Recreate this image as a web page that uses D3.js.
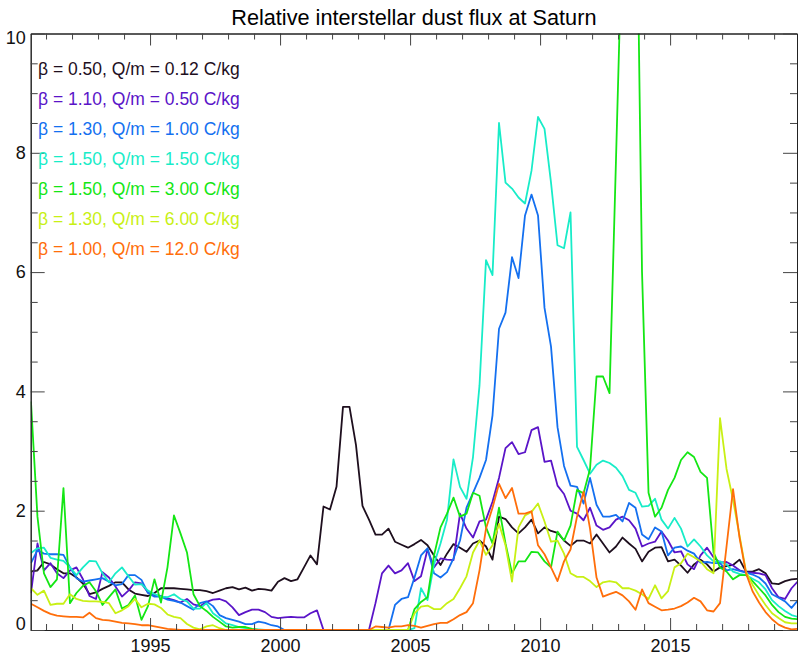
<!DOCTYPE html>
<html>
<head>
<meta charset="utf-8">
<script src="https://cdn.jsdelivr.net/npm/d3@7"></script>
<style>
  body { margin: 0; background: #fff; }
  svg { display: block; font-family: "Liberation Sans", Arial, sans-serif; }
</style>
</head>
<body>
<svg id="chart" width="798" height="657"></svg>
<script>
// time grid: one value every quarter year, first sample at 1990.42
const startYear = 1990.42;
const step = 0.25;

// one row per year: yyyy.42, yyyy.67, yyyy.92, (yyyy+1).17
const fluxB050 = [
  0.98,1.00,1.14,1.10, 1.02,0.95,0.95,0.88, 0.78,0.60,0.63,0.69, 0.74,0.80,0.80,0.68,
  0.61,0.59,0.57,0.62, 0.70,0.70,0.70,0.69, 0.68,0.67,0.67,0.65, 0.62,0.66,0.70,0.72,
  0.68,0.71,0.66,0.69, 0.68,0.66,0.81,0.87, 0.82,0.85,1.05,1.25, 1.10,2.07,2.02,2.40,
  3.74,3.74,3.10,2.08, 1.85,1.60,1.60,1.70, 1.48,1.43,1.38,1.44, 1.51,1.42,1.25,1.09,
  1.28,1.44,1.38,1.31, 1.45,1.50,1.40,1.18, 1.90,1.86,1.72,1.62, 1.72,1.85,1.62,1.72,
  1.66,1.63,1.50,1.41, 1.50,1.50,1.45,1.60, 1.45,1.30,1.40,1.55, 1.45,1.36,1.15,1.31,
  1.38,1.39,1.15,1.18, 1.08,0.96,1.10,1.18, 1.10,0.98,1.05,1.07, 1.09,1.18,0.98,0.98,
  1.02,0.95,0.78,0.77, 0.82,0.85,0.86
];
const fluxB110 = [
  0.62,1.45,1.00,1.12, 0.95,0.87,1.00,1.05, 0.85,0.57,0.52,0.97, 0.88,0.73,0.56,0.66,
  0.80,0.78,0.63,0.58, 0.57,0.53,0.50,0.46, 0.52,0.43,0.40,0.47, 0.51,0.52,0.48,0.38,
  0.25,0.30,0.34,0.34, 0.30,0.22,0.20,0.21, 0.22,0.21,0.21,0.28, 0.33,0.00,0.00,0.00,
  0.00,0.00,0.00,0.00, 0.00,0.45,0.95,1.08, 0.95,1.00,1.12,0.82, 0.90,1.35,1.05,1.20,
  1.18,1.17,1.95,1.70, 1.55,1.82,1.85,2.15, 2.55,3.05,3.15,2.95, 2.98,3.35,3.40,2.82,
  2.84,2.42,2.28,2.00, 1.95,1.84,2.05,1.75, 1.68,1.72,1.85,1.90, 1.84,1.70,1.40,1.45,
  1.48,1.65,1.50,1.30, 1.32,1.10,1.02,1.25, 1.38,1.22,1.13,1.14, 1.08,1.00,0.97,0.96,
  0.95,0.92,0.70,0.55, 0.52,0.70,0.82
];
const fluxB130 = [
  1.12,1.34,1.28,1.27, 1.27,1.26,1.05,0.87, 0.81,0.83,0.85,0.87, 0.81,0.75,0.77,0.92,
  0.92,0.84,0.62,0.56, 0.56,0.51,0.49,0.46, 0.40,0.34,0.45,0.48, 0.40,0.25,0.20,0.17,
  0.14,0.10,0.10,0.14, 0.12,0.08,0.06,0.00, 0.00,0.00,0.00,0.00, 0.00,0.00,0.00,0.00,
  0.00,0.00,0.00,0.00, 0.00,0.00,0.00,0.00, 0.42,0.52,0.55,0.88, 1.25,1.37,0.95,0.88,
  0.97,1.20,1.50,2.05, 2.30,2.55,2.85,3.60, 5.05,5.32,6.25,5.90, 6.95,7.30,6.95,5.40,
  4.75,3.40,2.75,2.42, 2.40,2.12,2.55,2.10, 1.90,1.90,1.93,1.82, 2.13,2.05,1.60,1.52,
  1.72,1.65,1.25,1.38, 1.40,1.33,1.28,1.13, 1.14,1.12,1.12,1.00, 1.02,0.99,0.96,0.93,
  0.88,0.78,0.60,0.54, 0.48,0.37,0.50
];
const fluxB150a = [
  1.29,1.37,1.38,1.21, 1.18,1.16,1.05,0.92, 1.05,1.16,1.15,0.95, 0.80,0.95,1.05,0.90,
  0.76,0.77,0.66,0.60, 0.56,0.55,0.60,0.52, 0.48,0.36,0.36,0.45, 0.28,0.20,0.11,0.08,
  0.05,0.03,0.01,0.01, 0.00,0.00,0.00,0.00, 0.00,0.00,0.00,0.00, 0.00,0.00,0.00,0.00,
  0.00,0.00,0.00,0.00, 0.00,0.00,0.00,0.00, 0.00,0.00,0.00,0.03, 0.70,0.50,1.10,1.45,
  1.85,2.86,2.40,2.20, 2.90,4.10,6.20,5.95, 8.50,7.50,7.40,7.25, 7.15,7.70,8.60,8.40,
  7.50,6.45,6.40,7.00, 3.07,2.85,2.62,2.77, 2.84,2.80,2.72,2.58, 2.35,2.30,2.07,2.08,
  2.20,1.85,1.70,1.88, 1.70,1.40,1.52,1.40, 1.25,1.15,1.15,1.10, 0.98,0.94,0.92,0.86,
  0.80,0.68,0.50,0.40, 0.32,0.25,0.22
];
const fluxB150b = [
  3.83,1.90,0.95,0.72, 0.85,2.38,0.45,0.62, 0.74,0.80,0.65,0.42, 0.55,0.68,0.36,0.42,
  0.58,0.17,0.40,0.85, 0.46,1.05,1.92,1.62, 1.30,0.60,0.40,0.32, 0.22,0.14,0.06,0.04,
  0.05,0.05,0.02,0.00, 0.00,0.00,0.00,0.00, 0.00,0.00,0.00,0.00, 0.00,0.00,0.00,0.00,
  0.00,0.00,0.00,0.00, 0.00,0.00,0.00,0.00, 0.00,0.00,0.00,0.35, 0.47,0.55,1.25,1.72,
  1.95,2.22,1.90,1.95, 2.30,2.25,1.72,1.45, 2.05,1.45,0.95,1.15, 1.15,1.31,1.30,1.15,
  1.05,1.65,1.50,1.75, 2.35,2.29,2.70,4.25, 4.25,3.97,7.90,11.9, 15.0,14.0,6.00,2.30,
  1.90,2.05,2.35,2.55, 2.85,2.98,2.90,2.65, 2.55,1.30,1.05,0.98, 0.85,0.92,0.92,0.82,
  0.70,0.58,0.42,0.30, 0.22,0.19,0.18
];
const fluxB130b = [
  0.70,0.59,0.66,0.42, 0.44,0.44,0.60,0.52, 0.49,0.48,0.48,0.47, 0.45,0.28,0.33,0.40,
  0.52,0.38,0.44,0.43, 0.37,0.26,0.22,0.20, 0.10,0.04,0.01,0.06, 0.08,0.03,0.00,0.00,
  0.00,0.00,0.00,0.00, 0.00,0.00,0.00,0.00, 0.00,0.00,0.00,0.00, 0.00,0.00,0.00,0.00,
  0.00,0.00,0.00,0.00, 0.00,0.00,0.00,0.00, 0.00,0.00,0.00,0.28, 0.39,0.41,0.35,0.35,
  0.45,0.52,0.70,0.90, 1.30,1.50,1.26,1.42, 1.78,1.42,0.81,1.72, 1.92,1.98,2.12,1.82,
  1.48,1.50,1.28,0.95, 0.89,0.89,0.82,0.72, 0.80,0.82,0.80,0.70, 0.70,0.66,0.60,0.52,
  0.75,0.53,0.65,1.05, 1.12,1.28,1.22,1.15, 1.02,0.95,3.55,2.70, 2.18,1.58,0.98,0.76,
  0.58,0.42,0.28,0.20, 0.13,0.11,0.11
];
const fluxB100 = [
  0.44,0.38,0.32,0.27, 0.24,0.23,0.22,0.22, 0.21,0.29,0.20,0.17, 0.16,0.14,0.12,0.11,
  0.10,0.08,0.08,0.06, 0.04,0.02,0.01,0.00, 0.00,0.00,0.00,0.00, 0.00,0.00,0.00,0.00,
  0.00,0.00,0.00,0.00, 0.00,0.00,0.00,0.00, 0.00,0.00,0.00,0.00, 0.00,0.00,0.00,0.00,
  0.00,0.00,0.00,0.00, 0.00,0.06,0.05,0.04, 0.06,0.06,0.08,0.07, 0.04,0.07,0.10,0.12,
  0.12,0.18,0.25,0.30, 0.45,1.00,1.70,2.05, 2.45,2.21,2.38,1.95, 1.95,1.99,1.42,1.27,
  1.05,0.82,1.15,1.35, 1.90,2.32,1.70,0.88, 0.56,0.60,0.64,0.58, 0.48,0.34,0.68,0.45,
  0.39,0.33,0.34,0.36, 0.40,0.46,0.54,0.48, 0.33,0.31,0.45,1.40, 2.36,1.55,0.95,0.65,
  0.46,0.30,0.18,0.09, 0.04,0.01,0.02
];

const legendLabels = [
  "β = 0.50, Q/m = 0.12 C/kg",
  "β = 1.10, Q/m = 0.50 C/kg",
  "β = 1.30, Q/m = 1.00 C/kg",
  "β = 1.50, Q/m = 1.50 C/kg",
  "β = 1.50, Q/m = 3.00 C/kg",
  "β = 1.30, Q/m = 6.00 C/kg",
  "β = 1.00, Q/m = 12.0 C/kg"
];
const colors = ["#1e0f1e", "#5a14c8", "#1470f0", "#18ecc8", "#14e614", "#c8f014", "#ff6e0a"];
const majorYears = [1995, 2000, 2005, 2010, 2015];
const yTicks = [0, 2, 4, 6, 8, 10];

const series = [fluxB050, fluxB110, fluxB130, fluxB150a, fluxB150b, fluxB130b, fluxB100]
  .map((vals, k) => ({ label: legendLabels[k], color: colors[k], values: vals }));

const plotLeft = 30.7, plotRight = 797, plotTop = 33.5, plotBottom = 630;

const svg = d3.select('#chart');

const x = d3.scaleLinear().domain([1990.41, 2019.88]).range([plotLeft, plotRight]);
const y = d3.scaleLinear().domain([0, 10]).range([plotBottom, plotTop]);

// title
svg.append('text')
  .attr('x', (plotLeft + plotRight) / 2)
  .attr('y', 25)
  .attr('text-anchor', 'middle')
  .style('font-size', '21.7px')
  .text('Relative interstellar dust flux at Saturn');

// clip for the lines
svg.append('clipPath').attr('id', 'plot')
  .append('rect')
  .attr('x', plotLeft).attr('y', plotTop)
  .attr('width', plotRight - plotLeft).attr('height', plotBottom - plotTop);

const line = d3.line()
  .x((d, i) => x(startYear + i * step))
  .y(d => y(d));

svg.append('g').attr('clip-path', 'url(#plot)')
  .selectAll('path')
  .data(series)
  .enter()
  .append('path')
  .attr('d', d => line(d.values))
  .attr('fill', 'none')
  .attr('stroke', d => d.color)
  .attr('stroke-width', 1.8)
  .attr('stroke-linejoin', 'round');

// minor tick values
const minorYears = d3.range(1991, 2020).filter(v => !majorYears.includes(v));
const minorY = d3.range(0.5, 10, 0.5).filter(v => !yTicks.includes(v));

function styleAxis(g) {
  g.select('.domain').attr('stroke', '#222');
  g.selectAll('.tick line').attr('stroke', '#444');
  g.selectAll('.tick text').style('font-size', '18px').attr('fill', '#111');
}

// bottom
svg.append('g').attr('transform', `translate(0,${plotBottom})`)
  .call(d3.axisBottom(x).tickValues(majorYears).tickSize(-12).tickSizeOuter(0)
    .tickPadding(9).tickFormat(d3.format('d')))
  .call(styleAxis);
svg.append('g').attr('transform', `translate(0,${plotBottom})`)
  .call(d3.axisBottom(x).tickValues(minorYears).tickSize(-6).tickSizeOuter(0).tickFormat(''))
  .call(styleAxis);

// top
svg.append('g').attr('transform', `translate(0,${plotTop})`)
  .call(d3.axisTop(x).tickValues(majorYears).tickSize(-12).tickSizeOuter(0).tickFormat(''))
  .call(styleAxis);
svg.append('g').attr('transform', `translate(0,${plotTop})`)
  .call(d3.axisTop(x).tickValues(minorYears).tickSize(-6).tickSizeOuter(0).tickFormat(''))
  .call(styleAxis);

// left
const leftAxis = svg.append('g').attr('transform', `translate(${plotLeft},0)`)
  .call(d3.axisLeft(y).tickValues(yTicks).tickSize(-14).tickSizeOuter(0).tickPadding(5))
  .call(styleAxis);
leftAxis.selectAll('.tick text')
  .attr('dy', d => d === 0 ? '-0.05em' : d === 10 ? '0.55em' : '0.32em');
svg.append('g').attr('transform', `translate(${plotLeft},0)`)
  .call(d3.axisLeft(y).tickValues(minorY).tickSize(-7).tickSizeOuter(0).tickFormat(''))
  .call(styleAxis);

// right
svg.append('g').attr('transform', `translate(${plotRight},0)`)
  .call(d3.axisRight(y).tickValues(yTicks).tickSize(-14).tickSizeOuter(0).tickFormat(''))
  .call(styleAxis);
svg.append('g').attr('transform', `translate(${plotRight},0)`)
  .call(d3.axisRight(y).tickValues(minorY).tickSize(-7).tickSizeOuter(0).tickFormat(''))
  .call(styleAxis);

// legend
svg.append('g')
  .selectAll('text')
  .data(series)
  .enter()
  .append('text')
  .attr('x', 38)
  .attr('y', (d, i) => 75 + i * 30)
  .attr('fill', d => d.color)
  .style('font-size', '17.5px')
  .text(d => d.label);
</script>
</body>
</html>
